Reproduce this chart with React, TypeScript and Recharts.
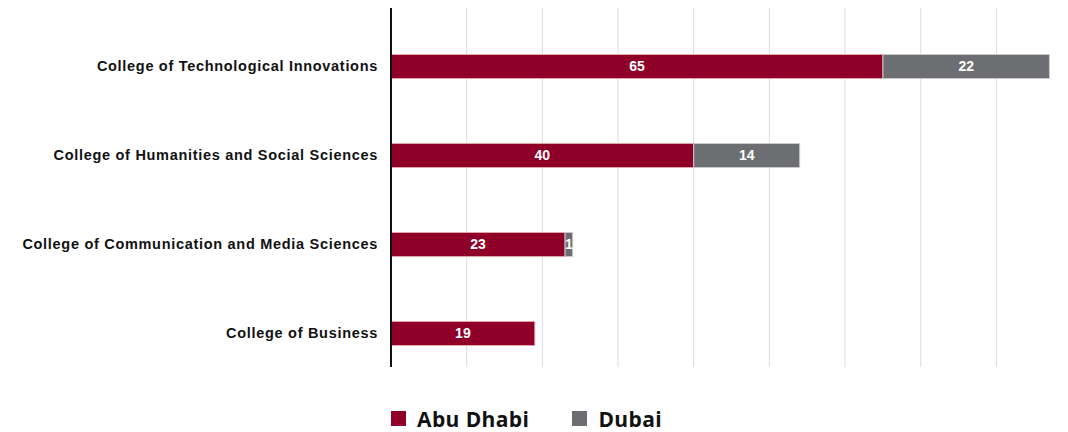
import React from 'react';
import { BarChart, Bar, XAxis, YAxis, CartesianGrid, Legend, LabelList } from 'recharts';

const colleges = [
  'College of Technological Innovations',
  'College of Humanities and Social Sciences',
  'College of Communication and Media Sciences',
  'College of Business',
];
const abuDhabi = [65, 40, 23, 19];
const dubai = [22, 14, 1, 0];
const gridTicks = [0, 10, 20, 30, 40, 50, 60, 70, 80];

const RED = '#8f0028';
const GREY = '#6d6e71';
const LABEL_FONT = '"Liberation Sans", Arial, sans-serif';

const data = colleges.map((name, i) => ({ name, abuDhabi: abuDhabi[i], dubai: dubai[i] }));

const renderLegend = (props: any) => {
  const { payload } = props;
  return (
    <div
      style={{
        height: 65,
        boxSizing: 'border-box',
        paddingTop: 38,
        paddingLeft: 391,
        display: 'flex',
        alignItems: 'center',
        fontFamily: '"Open Sans", sans-serif',
        fontWeight: 700,
        fontSize: 21,
        letterSpacing: 0.4,
        lineHeight: '24px',
        color: '#111',
      }}
    >
      {payload.map((entry: any, i: number) => (
        <div key={entry.value} style={{ display: 'flex', alignItems: 'center', marginLeft: i ? 43 : 0 }}>
          <span style={{ width: 15, height: 15, background: entry.color, marginRight: 11, display: 'inline-block' }} />
          <span>{entry.value}</span>
        </div>
      ))}
    </div>
  );
};

const hideZero = (v: any) => (v ? v : '');

export default function App() {
  return (
    <div style={{ position: 'absolute', left: 0, top: 0, background: '#fff' }}>
      <BarChart
        width={1068}
        height={432}
        data={data}
        layout="vertical"
        margin={{ top: 8, right: 11, bottom: 0, left: 0 }}
      >
        <CartesianGrid horizontal={false} stroke="#dcdcdc" strokeWidth={1} verticalValues={gridTicks} />
        <XAxis type="number" domain={[0, 88]} ticks={gridTicks} hide />
        <YAxis
          type="category"
          dataKey="name"
          width={391}
          padding={{ top: 13.5, bottom: -10.5 }}
          tickLine={false}
          tickSize={0}
          tickMargin={13}
          axisLine={{ stroke: '#111', strokeWidth: 2 }}
          tick={{ fill: '#111', fontSize: 14.5, fontWeight: 700, fontFamily: LABEL_FONT, letterSpacing: 0.7 }}
        />
        <Legend verticalAlign="bottom" content={renderLegend} />
        <Bar
          dataKey="abuDhabi"
          name="Abu Dhabi"
          stackId="a"
          fill={RED}
          stroke="#e3a3ab"
          strokeWidth={1}
          barSize={24}
          isAnimationActive={false}
        >
          <LabelList
            dataKey="abuDhabi"
            position="center"
            fill="#fff"
            fontSize={14}
            fontWeight={700}
            fontFamily={LABEL_FONT}
            formatter={hideZero}
          />
        </Bar>
        <Bar
          dataKey="dubai"
          name="Dubai"
          stackId="a"
          fill={GREY}
          stroke="#c9c9cb"
          strokeWidth={1}
          barSize={24}
          isAnimationActive={false}
        >
          <LabelList
            dataKey="dubai"
            position="center"
            fill="#fff"
            fontSize={14}
            fontWeight={700}
            fontFamily={LABEL_FONT}
            formatter={hideZero}
          />
        </Bar>
      </BarChart>
    </div>
  );
}
